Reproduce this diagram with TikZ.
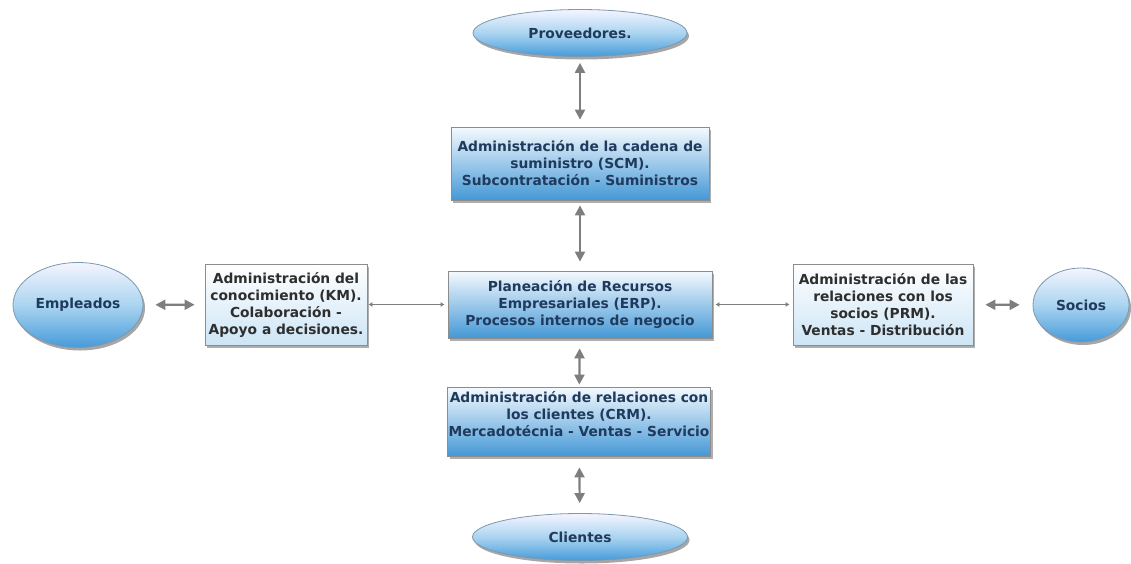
\documentclass[tikz,border=0pt]{standalone}
\usepackage{fontspec}
\setmainfont{DejaVu Sans}
\usetikzlibrary{shapes.geometric,shadows,arrows.meta}

\definecolor{navytext}{HTML}{1F3A5C}
\definecolor{greytext}{HTML}{2E2E2E}
\definecolor{rimblue}{HTML}{7C98B0}
\definecolor{boxrim}{HTML}{8C8C8C}
\definecolor{arrowgrey}{HTML}{7E7E7E}

\tikzset{
  basefont/.style={font=\fontsize{13.8}{17}\selectfont\bfseries, align=center, inner sep=0pt},
  oval/.style={basefont, ellipse, draw=rimblue, line width=0.8pt, text=navytext,
    top color=blue!4!white, bottom color={rgb,255:red,70;green,155;blue,218},
    middle color={rgb,255:red,170;green,212;blue,240},
    drop shadow={shadow xshift=2pt, shadow yshift=-3pt, opacity=0.35, fill=black}},
  bluebox/.style={basefont, rectangle, draw=boxrim, line width=0.8pt, text=navytext,
    top color={rgb,255:red,245;green,250;blue,254},
    middle color={rgb,255:red,190;green,221;blue,244},
    bottom color={rgb,255:red,68;green,152;blue,214},
    drop shadow={shadow xshift=2pt, shadow yshift=-3pt, opacity=0.45, fill=black!70}},
  lightbox/.style={basefont, rectangle, draw=boxrim, line width=0.8pt, text=greytext,
    top color=white, bottom color={rgb,255:red,205;green,229;blue,246},
    drop shadow={shadow xshift=2pt, shadow yshift=-3pt, opacity=0.45, fill=black!70}},
  biarrow/.style={draw=arrowgrey, line width=2.2pt,
    {Triangle[length=10pt,width=10pt]}-{Triangle[length=10pt,width=10pt]}},
  thinlink/.style={draw=arrowgrey, line width=1.1pt,
    {Latex[length=4pt,width=5pt]}-{Latex[length=4pt,width=5pt]}}
}

\begin{document}
\begin{tikzpicture}[x=1pt,y=-1pt]
  \useasboundingbox[fill=white] (0,0) rectangle (1131,563);

  % outer partners
  \node[oval, minimum width=214pt, minimum height=47pt] (prov) at (580,33) {Proveedores.};
  \node[oval, minimum width=215pt, minimum height=47pt] (cli) at (580,537) {Clientes};
  \node[oval, minimum width=130pt, minimum height=85pt] (emp) at (78,305) {Empleados};
  \node[oval, minimum width=96pt, minimum height=74pt] (soc) at (1081,305) {Socios};

  % management systems
  \node[bluebox, minimum width=258pt, minimum height=73pt] (scm) at (580,163.5)
    {Administración de la cadena de\\suministro (SCM).\\Subcontratación - Suministros};
  \node[bluebox, minimum width=264pt, minimum height=67pt] (erp) at (580,304.5)
    {Planeación de Recursos\\Empresariales (ERP).\\Procesos internos de negocio};
  \node[bluebox, minimum width=263pt, minimum height=69pt, text depth=15pt] (crm) at (579,421.5)
    {Administración de relaciones con\\los clientes (CRM).\\Mercadotécnia - Ventas - Servicio};
  \node[lightbox, minimum width=162pt, minimum height=81pt] (km) at (286,304.5)
    {Administración del\\conocimiento (KM).\\Colaboración -\\Apoyo a decisiones.};
  \node[lightbox, minimum width=180pt, minimum height=81pt] (prm) at (883,304.5)
    {Administración de las\\relaciones con los\\socios (PRM).\\Ventas - Distribución};

  % connectors
  \draw[biarrow, shorten <=6pt, shorten >=7pt] (prov) -- (scm);
  \draw[biarrow, shorten <=5pt, shorten >=9pt] (scm) -- (erp);
  \draw[biarrow, shorten <=10pt, shorten >=2pt] (erp) -- (crm);
  \draw[biarrow, shorten <=11pt, shorten >=10pt] (crm) -- (cli);
  \draw[biarrow, shorten <=12pt, shorten >=10pt] (emp) -- (km);
  \draw[biarrow, shorten <=12pt, shorten >=13pt] (prm) -- (soc);
  \draw[thinlink, shorten <=1pt, shorten >=3pt] (km) -- (erp);
  \draw[thinlink, shorten <=3pt, shorten >=3pt] (erp) -- (prm);
\end{tikzpicture}
\end{document}
